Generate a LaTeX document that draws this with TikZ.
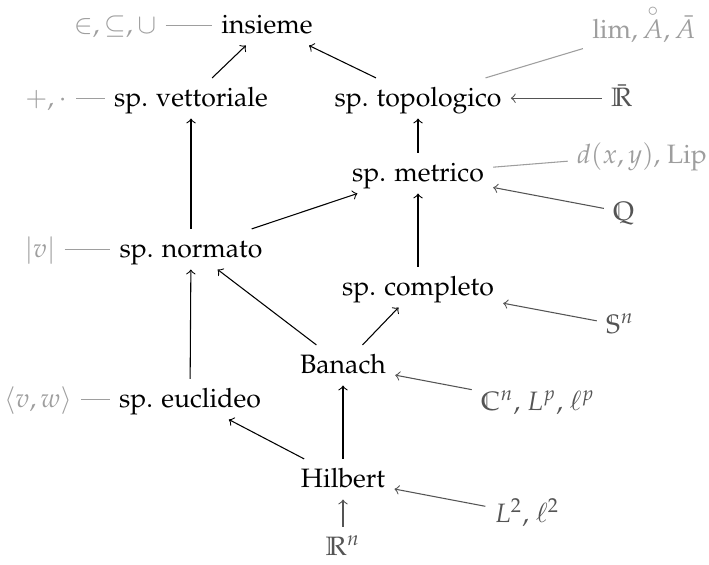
\documentclass[tikz,border=0pt]{standalone}
\usepackage[T1]{fontenc}
\usepackage{amsmath}
\usepackage{mathpazo}
\definecolor{annc}{gray}{0.62}
\definecolor{exc}{gray}{0.33}
\tikzset{
  nd/.style={anchor=base,text height=1.5ex,text depth=.25ex},
  lab/.style={nd,text=annc},
  exn/.style={nd,text=exc},
  arr/.style={->,black},
  exarr/.style={->,draw=exc},
  annline/.style={draw=annc}
}
\begin{document}
\begin{tikzpicture}[x=0.376pt,y=-0.376pt]
\useasboundingbox (0,0) rectangle (709,564);
% main nodes
\node[nd] (ins)  at (267,33)  {insieme};
\node[nd] (vett) at (191,106) {sp. vettoriale};
\node[nd] (topo) at (418,106) {sp. topologico};
\node[nd] (metr) at (418,181) {sp. metrico};
\node[nd] (norm) at (191,257) {sp. normato};
\node[nd] (comp) at (418,295) {sp. completo};
\node[nd] (ban)  at (343,373) {Banach};
\node[nd] (eucl) at (190,407) {sp. euclideo};
\node[nd] (hilb) at (343,487) {Hilbert};
% annotations
\node[lab] (lins) at (115,33)  {$\in,\subseteq,\cup$};
\node[lab] (lvet) at (46,106)  {$+,\cdot$};
\node[lab] (ltop) at (644,38)  {$\lim,\overset{\raisebox{-3pt}{$\scriptstyle\circ$}}{A},\bar{A}$};
\node[lab] (lmet) at (642,163) {$d(x,y)$, Lip};
\node[lab] (lnor) at (40,257)  {$|v|$};
\node[lab] (leuc) at (38,407)  {$\langle v,w\rangle$};
% examples
\node[exn] (rbar) at (622,106) {$\bar{\mathbb{R}}$};
\node[exn] (qq)   at (624,220) {$\mathbb{Q}$};
\node[exn] (sn)   at (620,333) {$\mathbb{S}^n$};
\node[exn] (cn)   at (538,410) {$\mathbb{C}^n$, $L^p$, $\ell^p$};
\node[exn] (l2)   at (527,522) {$L^2$, $\ell^2$};
\node[exn] (rn)   at (343,555) {$\mathbb{R}^n$};
% hierarchy arrows
\draw[arr] (vett) -- (ins);
\draw[arr] (topo) -- (ins);
\draw[arr] (norm) -- (vett);
\draw[arr] (metr) -- (topo);
\draw[arr] (norm) -- (metr);
\draw[arr] (comp) -- (metr);
\draw[arr] (ban) -- (norm);
\draw[arr] (ban) -- (comp);
\draw[arr] (eucl) -- (norm);
\draw[arr] (hilb) -- (ban);
\draw[arr] (hilb) -- (eucl);
% annotation lines
\draw[annline] (lins) -- (ins);
\draw[annline] (lvet) -- (vett);
\draw[annline] (topo) -- (ltop);
\draw[annline] (metr) -- (lmet);
\draw[annline] (lnor) -- (norm);
\draw[annline] (leuc) -- (eucl);
% example arrows
\draw[exarr] (rbar) -- (topo);
\draw[exarr] (qq) -- (metr);
\draw[exarr] (sn) -- (comp);
\draw[exarr] (cn) -- (ban);
\draw[exarr] (l2) -- (hilb);
\draw[exarr] (rn) -- (hilb);
\end{tikzpicture}
\end{document}
